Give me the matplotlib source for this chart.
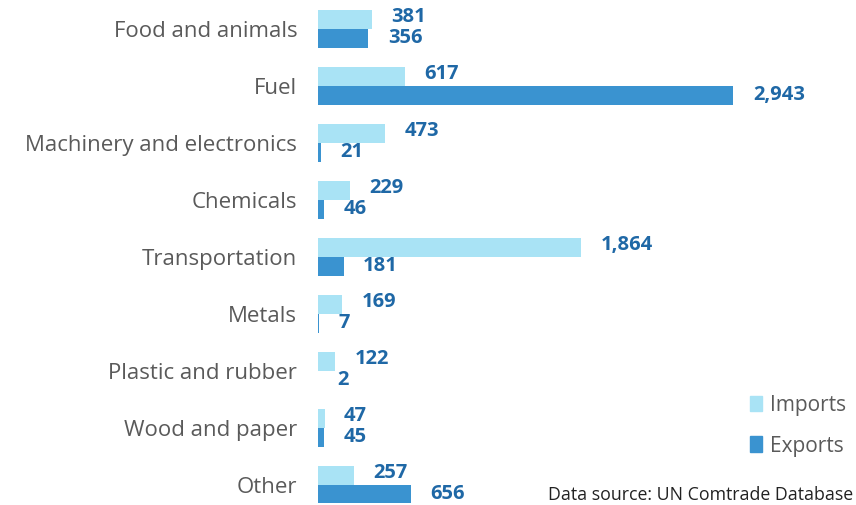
import matplotlib
matplotlib.use("Agg")
import matplotlib.pyplot as plt
from matplotlib.patches import Patch
import numpy as np

categories = ["Food and animals", "Fuel", "Machinery and electronics", "Chemicals",
              "Transportation", "Metals", "Plastic and rubber", "Wood and paper", "Other"]
imports = [381, 617, 473, 229, 1864, 169, 122, 47, 257]
exports = [356, 2943, 21, 46, 181, 7, 2, 45, 656]

plt.rcParams['font.family'] = ['Open Sans', 'DejaVu Sans']

W, H = 856, 505
fig = plt.figure(figsize=(W/100, H/100), dpi=100)
ax = fig.add_axes([318/W, 2/H, (812-318)/W, 1 - 2/H])

c_imp = "#a9e3f5"
c_exp = "#3a93d0"
c_lab = "#1f68a6"

y = np.arange(len(categories))
h = 0.333
ax.barh(y - h/2, imports, height=h, color=c_imp)
ax.barh(y + h/2, exports, height=h, color=c_exp)

for yi, v in zip(y - h/2, imports):
    ax.annotate(f"{v:,}", (v, yi), xytext=(14, 1.5), textcoords="offset points",
                va="center", ha="left", fontsize=14.5, fontweight="bold", color=c_lab)
for yi, v in zip(y + h/2, exports):
    ax.annotate(f"{v:,}", (v, yi), xytext=(14, 0.5), textcoords="offset points",
                va="center", ha="left", fontsize=14.5, fontweight="bold", color=c_lab)

ax.set_xlim(0, 3500)
ax.set_ylim(8.316, -0.509)
ax.set_yticks(y)
ax.set_yticklabels(categories, fontsize=16, color="#5a5a5a")
ax.tick_params(axis="y", length=0, pad=15)
ax.set_xticks([])
for s in ax.spines.values():
    s.set_visible(False)

handles = [Patch(color=c_imp, label="Imports"), Patch(color=c_exp, label="Exports")]
fig.legend(handles=handles, loc="upper left", bbox_to_anchor=(731/W, 1 - 376/H),
           frameon=False, handlelength=0.6, handleheight=0.8, handletextpad=0.35,
           labelspacing=0.95, fontsize=15, labelcolor="#5a5a5a")

fig.text(548/W, 1 - 500/H, "Data source: UN Comtrade Database", fontsize=12.8,
         color="#222222", va="baseline", ha="left")

fig.savefig("out.png", dpi=100)
